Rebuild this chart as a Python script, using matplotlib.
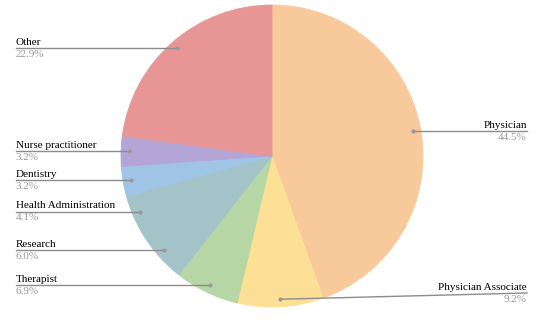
import numpy as np
import matplotlib
matplotlib.use("Agg")
import matplotlib.pyplot as plt

# slice data, clockwise from 12 o'clock
labels = ["Physician", "Physician Associate", "Therapist", "Research",
          "Health Administration", "Dentistry", "Nurse practitioner", "Other"]
shares = [44.5, 9.2, 6.9, 6.0, 4.1, 3.2, 3.2, 22.9]
colors = ["#f7c99b", "#fde095", "#b7d6a6", "#a3c3c8",
          "#a3c3c8", "#a0c4e6", "#b3a6d6", "#e79595"]

W, H = 548, 324
cx, cy, R = 272, H - 156, 151
left_x, right_x = 16, 527
line_col = "#8c8c8c"

plt.rcParams['font.family'] = ['Liberation Serif', 'DejaVu Serif']

fig = plt.figure(figsize=(W / 100, H / 100), dpi=100)
ax = fig.add_axes([0, 0, 1, 1])

wedges, _ = ax.pie(shares, colors=colors, startangle=90, counterclock=False,
                   center=(cx, cy), radius=R, wedgeprops=dict(linewidth=0.6),
                   frame=True)
for w, c in zip(wedges, colors):
    w.set_edgecolor(c)  # hide the antialiasing seams between slices
ax.set_xlim(0, W)
ax.set_ylim(0, H)
ax.set_aspect('equal')
ax.axis('off')

for w, name, val in zip(wedges, labels, shares):
    mid = np.deg2rad((w.theta1 + w.theta2) / 2)
    px = cx + 0.95 * R * np.cos(mid)
    py = cy + 0.95 * R * np.sin(mid)
    ly = max(py, 31)  # keep the label inside the bottom edge
    if np.cos(mid) > 0.05 or ly != py:
        tx, ha = right_x, 'right'
    else:
        tx, ha = left_x, 'left'
    ax.plot([px, tx], [py, ly], color=line_col, lw=1)
    ax.plot(px, py, 'o', color="#999999", ms=3, mew=0)
    ax.text(tx, ly + 1.5, name, ha=ha, va='bottom', fontsize=8, color='black')
    ax.text(tx, ly - 1.5, f"{val:.1f}%", ha=ha, va='top', fontsize=8, color='#999999')

fig.savefig("out.png", dpi=100)
